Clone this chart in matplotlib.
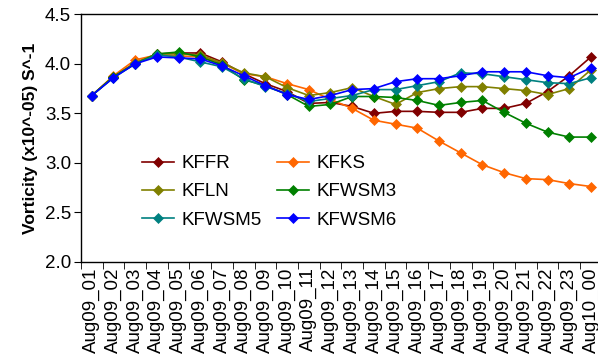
import matplotlib
matplotlib.use("Agg")
import matplotlib.pyplot as plt

plt.rcParams['font.family'] = ['Liberation Sans', 'DejaVu Sans']

dates = ['Aug09_%02d' % h for h in range(1, 24)] + ['Aug10_00']

kffr = [3.68, 3.87, 4.01, 4.10, 4.11, 4.11, 4.02, 3.90, 3.80, 3.72, 3.60, 3.61,
        3.57, 3.50, 3.52, 3.52, 3.51, 3.51, 3.55, 3.55, 3.60, 3.72, 3.88, 4.07]
kfks = [3.68, 3.88, 4.04, 4.09, 4.08, 4.07, 4.01, 3.90, 3.87, 3.80, 3.74, 3.64,
        3.55, 3.43, 3.39, 3.35, 3.22, 3.10, 2.98, 2.90, 2.84, 2.83, 2.79, 2.76]
kfln = [3.68, 3.87, 4.01, 4.10, 4.10, 4.09, 4.01, 3.91, 3.87, 3.76, 3.68, 3.71,
        3.76, 3.67, 3.59, 3.71, 3.75, 3.77, 3.77, 3.75, 3.73, 3.69, 3.75, 3.94]
kfwsm3 = [3.68, 3.87, 4.00, 4.10, 4.12, 4.07, 3.99, 3.84, 3.78, 3.69, 3.57, 3.59,
          3.67, 3.67, 3.66, 3.63, 3.58, 3.61, 3.63, 3.51, 3.40, 3.31, 3.26, 3.26]
kfwsm5 = [3.68, 3.86, 4.00, 4.09, 4.07, 4.02, 3.97, 3.85, 3.77, 3.70, 3.62, 3.65,
          3.68, 3.74, 3.74, 3.78, 3.82, 3.91, 3.90, 3.87, 3.84, 3.81, 3.80, 3.86]
kfwsm6 = [3.68, 3.86, 4.00, 4.07, 4.06, 4.05, 3.98, 3.88, 3.78, 3.69, 3.64, 3.68,
          3.74, 3.75, 3.82, 3.85, 3.85, 3.88, 3.92, 3.92, 3.92, 3.88, 3.86, 3.96]

series = [('KFFR', kffr, '#800000'), ('KFKS', kfks, '#FF6600'),
          ('KFLN', kfln, '#808000'), ('KFWSM3', kfwsm3, '#008000'),
          ('KFWSM5', kfwsm5, '#008080'), ('KFWSM6', kfwsm6, '#0000FF')]

fig = plt.figure(figsize=(5.98, 3.6), dpi=100)
ax = fig.add_axes([0.1353, 0.273, 0.871, 0.687])

x = range(len(dates))
lines = []
for name, vals, col in series:
    ln, = ax.plot(x, vals, color=col, lw=1.2, marker='D', markersize=5,
                  markeredgewidth=0.5, label=name)
    lines.append(ln)

ax.set_xlim(-0.5, len(dates) - 0.5)
ax.set_ylim(2.0, 4.5)
yt = [2.0, 2.5, 3.0, 3.5, 4.0, 4.5]
ax.set_yticks(yt)
ax.set_yticklabels(['%.1f' % v for v in yt], fontsize=13.5)
ax.set_xticks(list(x))
ax.set_xticklabels(dates, rotation=90, fontsize=13.5)
ax.set_xticks([i - 0.5 for i in range(len(dates) + 1)], minor=True)
ax.tick_params(axis='x', which='major', length=0, pad=4)
ax.tick_params(axis='x', which='minor', length=5, direction='out')
ax.tick_params(axis='y', length=5, direction='out', pad=2)
ax.spines['right'].set_visible(False)
for s in ax.spines.values():
    s.set_linewidth(1.0)

ax.set_ylabel('Vorticity (x10^-05) S^-1', fontsize=12.5, fontweight='bold', labelpad=5)

# row-major legend order like the original
order = [0, 2, 4, 1, 3, 5]
ax.legend([lines[i] for i in order], [series[i][0] for i in order],
          ncol=2, frameon=False, fontsize=13.5, loc='upper left',
          bbox_to_anchor=(142 / 598, 1 - 155 / 360), bbox_transform=fig.transFigure,
          borderpad=0, borderaxespad=0, handlelength=1.7, handletextpad=0.4,
          labelspacing=0.6, columnspacing=0.8)

fig.savefig('out.png', dpi=100)
